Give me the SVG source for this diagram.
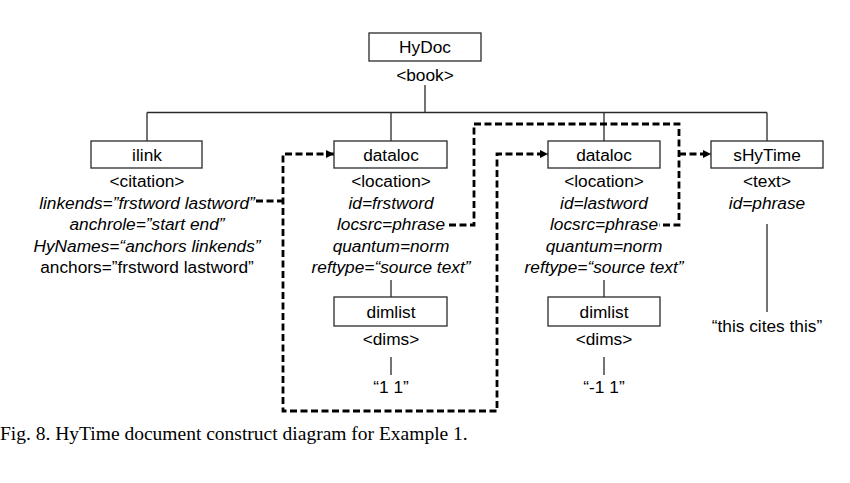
<svg xmlns="http://www.w3.org/2000/svg" width="850" height="483" viewBox="0 0 850 483">
<style>
  .box { fill: #fff; stroke: #2a2a2a; stroke-width: 1.3; }
  .tree { fill: none; stroke: #2a2a2a; stroke-width: 1.3; }
  .dash { fill: none; stroke: #000; stroke-width: 2.8; stroke-dasharray: 7 3.5; }
  text { font-family: "Liberation Sans", Arial, sans-serif; font-size: 17.3px; fill: #000; text-anchor: middle; }
  .it { font-style: italic; }
  .cap { font-family: "Liberation Serif", "Times New Roman", serif; font-size: 19.5px; text-anchor: start; }
</style>
<defs>
  <marker id="ah" viewBox="0 0 10 10" refX="10" refY="5" markerWidth="9" markerHeight="8" markerUnits="userSpaceOnUse" orient="auto-start-reverse">
    <path d="M0,0 L10,5 L0,10 z" fill="#000"/>
  </marker>
</defs>
<rect width="850" height="483" fill="#fff"/>

<g id="connectors">
  <path class="tree" d="M425,85 V112.5 M147,112.5 H767 M147,112.5 V141 M391,112.5 V141 M604,112.5 V141 M767,112.5 V141"/>
  <path class="tree" d="M391,280 V297 M604,280 V297 M391,357 V375 M604,357 V375 M767,224 V312"/>
  <path class="dash" d="M256,201 H283"/>
  <path class="dash" d="M334,154 H283 V411 H497 V154 H548" marker-start="url(#ah)" marker-end="url(#ah)"/>
  <path class="dash" d="M449,225 H474 V124 H679 V225 H659"/>
  <path class="dash" d="M679,154 H711" marker-end="url(#ah)"/>
</g>

<g id="hydoc">
  <rect class="box" x="369" y="33" width="112" height="28"/>
  <text x="425" y="53">HyDoc</text>
  <text x="425" y="81">&lt;book&gt;</text>
</g>

<g id="ilink">
  <rect class="box" x="91" y="141" width="111" height="27"/>
  <text x="147" y="161">ilink</text>
  <text x="147" y="187">&lt;citation&gt;</text>
  <text x="147" y="208.5" class="it">linkends=”frstword lastword”</text>
  <text x="147" y="230" class="it">anchrole=”start end”</text>
  <text x="147" y="251.5" class="it">HyNames=“anchors linkends”</text>
  <text x="147" y="273">anchors=”frstword lastword”</text>
</g>

<g id="dataloc1">
  <rect class="box" x="334" y="141" width="113" height="27"/>
  <text x="391" y="161">dataloc</text>
  <text x="391" y="187">&lt;location&gt;</text>
  <text x="391" y="208.5" class="it">id=frstword</text>
  <text x="391" y="230" class="it">locsrc=phrase</text>
  <text x="391" y="251.5" class="it">quantum=norm</text>
  <text x="391" y="273" class="it">reftype=“source text”</text>
</g>

<g id="dimlist1">
  <rect class="box" x="334" y="297" width="113" height="29"/>
  <text x="391" y="318">dimlist</text>
  <text x="391" y="345">&lt;dims&gt;</text>
  <text x="391" y="393">“1 1”</text>
</g>

<g id="dataloc2">
  <rect class="box" x="548" y="141" width="112" height="27"/>
  <text x="604" y="161">dataloc</text>
  <text x="604" y="187">&lt;location&gt;</text>
  <text x="604" y="208.5" class="it">id=lastword</text>
  <text x="604" y="230" class="it">locsrc=phrase</text>
  <text x="604" y="251.5" class="it">quantum=norm</text>
  <text x="604" y="273" class="it">reftype=“source text”</text>
</g>

<g id="dimlist2">
  <rect class="box" x="548" y="297" width="112" height="29"/>
  <text x="604" y="318">dimlist</text>
  <text x="604" y="345">&lt;dims&gt;</text>
  <text x="604" y="393">“-1 1”</text>
</g>

<g id="shytime">
  <rect class="box" x="711" y="141" width="112" height="27"/>
  <text x="767" y="161">sHyTime</text>
  <text x="767" y="187">&lt;text&gt;</text>
  <text x="767" y="208.5" class="it">id=phrase</text>
  <text x="767" y="332">“this cites this”</text>
</g>

<text class="cap" x="0" y="440">Fig. 8. HyTime document construct diagram for Example 1.</text>
</svg>
